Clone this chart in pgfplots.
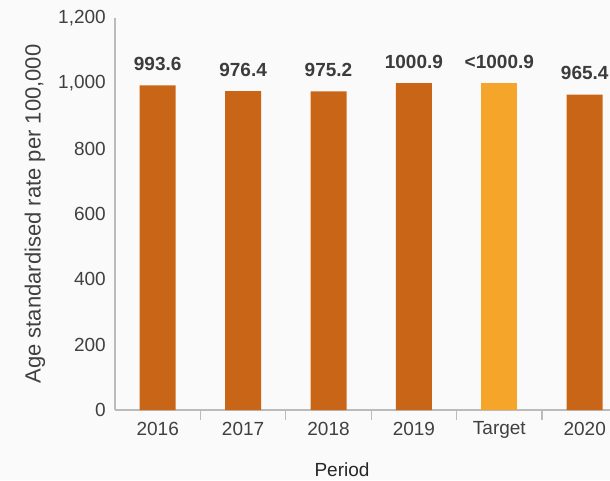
\documentclass[border=0pt]{standalone}
\usepackage{pgfplots}
\pgfplotsset{compat=1.18}
\usepackage{fontspec}
\setmainfont{Liberation Sans}
\definecolor{bgc}{HTML}{FAFAFA}
\definecolor{barc}{HTML}{C96516}
\definecolor{tarc}{HTML}{F5A62A}
\definecolor{axc}{HTML}{BBBBBB}
\definecolor{txt}{HTML}{404040}
\definecolor{vtxt}{HTML}{3C3C3C}
\begin{document}
\begin{tikzpicture}
\useasboundingbox (0,0) rectangle (457.5pt,360pt);
\clip (0,0) rectangle (457.5pt,360pt);
\fill[bgc] (0,0) rectangle (457.5pt,360pt);
\begin{axis}[
  at={(86.25pt,52.5pt)}, anchor=south west,
  scale only axis, width=371.25pt, height=294pt,
  xmin=-0.5, xmax=5.296, ymin=0, ymax=1200,
  axis lines*=left,
  axis line style={axc, line width=0.8pt},
  /pgf/number format/assume math mode=true,
  font=\fontsize{14.25pt}{17pt}\selectfont,
  xtick={0,1,2,3,4,5},
  xticklabels={2016,2017,2018,2019,Target,2020},
  minor xtick={0.5,1.5,2.5,3.5,4.5},
  major tick length=0pt,
  minor tick length=7.5pt,
  tick align=inside,
  minor tick style={axc, line width=0.8pt},
  major tick style={draw=none},
  xticklabel style={anchor=north, inner sep=0pt, yshift=-8.6pt, text=txt},
  ytick={0,200,...,1200},
  yticklabel style={anchor=east, inner sep=0pt, xshift=-6.75pt, text=txt, /pgf/number format/1000 sep={,}},
  ylabel={Age standardised rate per 100,000},
  ylabel style={at={(axis description cs:-0.1616,0.5)}, anchor=center, rotate=0, font=\fontsize{16.5pt}{19pt}\selectfont, text=txt},
  xlabel={Period},
  xlabel style={at={(axis description cs:0.4586,-0.1684)}, anchor=base, text=black!85},
  ybar, bar width=27pt,
  nodes near coords style={anchor=base, inner sep=0pt, yshift=11.25pt, font=\fontsize{14.25pt}{17pt}\selectfont\bfseries, text=vtxt},
  clip=false,
]
\addplot[fill=barc, draw=none, bar shift=0pt,
  nodes near coords={\pgfmathprintnumber[fixed,fixed zerofill,precision=1,1000 sep={}]{\pgfplotspointmeta}}]
  coordinates {(0,993.6) (1,976.4) (2,975.2) (3,1000.9) (5,965.4)};
\addplot[fill=tarc, draw=none, bar shift=0pt,
  nodes near coords={<1000.9}]
  coordinates {(4,1000.9)};
\end{axis}
\end{tikzpicture}
\end{document}
